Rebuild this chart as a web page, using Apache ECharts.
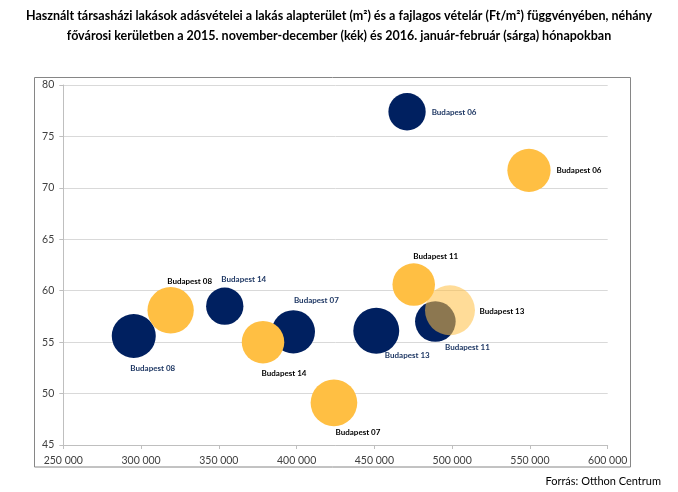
<!DOCTYPE html>
<html>
<head>
<meta charset="utf-8">
<script src="https://cdn.jsdelivr.net/npm/echarts@6/dist/echarts.min.js"></script>
<style>
html,body{margin:0;padding:0;background:#fff;}
#chart{width:678px;height:492px;}
</style>
</head>
<body>
<div id="chart"></div>
<script>
// ---- data ----
var titleLines = [
  'Használt társasházi lakások adásvételei a lakás alapterület (m²) és a fajlagos vételár (Ft/m²) függvényében, néhány',
  'fővárosi kerületben a 2015. november-december (kék) és 2016. január-február (sárga) hónapokban'
];
var sourceText = 'Forrás: Otthon Centrum';

var xTicks = [250000, 300000, 350000, 400000, 450000, 500000, 550000, 600000];
var yTicks = [45, 50, 55, 60, 65, 70, 75, 80];

// 2015 november-december (blue)
var blueNames = ['Budapest 06', 'Budapest 08', 'Budapest 14', 'Budapest 07', 'Budapest 13', 'Budapest 11'];
var bluePrice = [471000, 295300, 353800, 397900, 451200, 489200];   // Ft/m2
var blueArea  = [77.4, 55.6, 58.5, 56.0, 56.1, 57.0];               // m2
var blueSize  = [87, 121, 87, 117, 132, 103];                       // bubble size

// 2016 január-február (yellow)
var yellowNames = ['Budapest 06', 'Budapest 08', 'Budapest 14', 'Budapest 07', 'Budapest 11', 'Budapest 13'];
var yellowPrice = [549400, 319000, 378400, 424000, 475300, 498600];
var yellowArea  = [71.7, 58.1, 55.0, 49.1, 60.6, 58.1];
var yellowSize  = [117, 134, 113, 136, 113, 156];

// ---- layout / style (not data) ----
var blueLabelOffset   = [[47, 1], [19, 32], [19, -27], [23, -31], [31, 25], [32, 26]];
var yellowLabelOffset = [[50, 0], [19, -29], [21, 31], [24, 30], [22, -28], [52, 1]];
var NAVY = '#002060', GOLD = '#FFBF43', GOLD_T = 'rgba(255,191,67,0.55)';

function fmt(v) { return String(v).replace(/\B(?=(\d{3})+(?!\d))/g, ' '); }
function sizeFn(v) { return Math.sqrt(v) * 4; }

function build(names, xs, ys, ss, offs, color, labelColor, translucentName) {
  var items = names.map(function (n, i) {
    var it = {
      name: n,
      value: [xs[i], ys[i], ss[i]],
      label: { offset: offs[i] }
    };
    if (n === translucentName) it.itemStyle = { color: GOLD_T };
    return it;
  });
  // like Excel: larger bubbles drawn first
  items.sort(function (a, b) { return b.value[2] - a.value[2]; });
  return {
    type: 'scatter',
    data: items,
    symbolSize: function (v) { return sizeFn(v[2]); },
    itemStyle: { color: color, opacity: 1 },
    label: {
      show: true,
      position: 'inside',
      formatter: '{b}',
      color: labelColor,
      fontFamily: 'Lato',
      fontWeight: 'bold',
      fontSize: 8
    },
    emphasis: { disabled: true },
    animation: false
  };
}

var chart = echarts.init(document.getElementById('chart'), null, { renderer: 'canvas' });

var labelFont = { fontFamily: 'Lato', fontSize: 10.5, color: '#404040' };

chart.setOption({
  backgroundColor: '#fff',
  animation: false,
  title: [
    { text: titleLines[0], left: 'center', top: 4,
      textStyle: { fontFamily: 'Lato', fontWeight: 'bold', fontSize: 12.5, color: '#000' } },
    { text: titleLines[1], left: 'center', top: 24,
      textStyle: { fontFamily: 'Lato', fontWeight: 'bold', fontSize: 12.5, color: '#000' } },
    { text: sourceText, right: 12, top: 471,
      textStyle: { fontFamily: 'Lato', fontWeight: 'normal', fontSize: 11, color: '#000' } }
  ],
  graphic: [{
    type: 'rect',
    shape: { x: 34.5, y: 77.5, width: 596, height: 389.5 },
    style: { fill: 'none', stroke: '#868686', lineWidth: 1 },
    silent: true, z: -1
  }],
  grid: { left: 63.3, right: 70.3, top: 85, bottom: 47, containLabel: false },
  xAxis: {
    type: 'value',
    min: xTicks[0], max: xTicks[xTicks.length - 1], interval: xTicks[1] - xTicks[0],
    axisLine: { show: true, lineStyle: { color: '#bfbfbf' } },
    axisTick: { show: true, length: 4, lineStyle: { color: '#bfbfbf' } },
    splitLine: { show: false },
    axisLabel: Object.assign({ margin: 10, formatter: function (v) { return fmt(v); } }, labelFont)
  },
  yAxis: {
    type: 'value',
    min: yTicks[0], max: yTicks[yTicks.length - 1], interval: yTicks[1] - yTicks[0],
    axisLine: { show: true, lineStyle: { color: '#bfbfbf' } },
    axisTick: { show: true, length: 4, lineStyle: { color: '#bfbfbf' } },
    splitLine: { show: true, lineStyle: { color: '#d9d9d9' } },
    axisLabel: Object.assign({ margin: 9 }, labelFont)
  },
  series: [
    build(blueNames, bluePrice, blueArea, blueSize, blueLabelOffset, NAVY, '#1F3864', null),
    build(yellowNames, yellowPrice, yellowArea, yellowSize, yellowLabelOffset, GOLD, '#000', 'Budapest 13')
  ]
});
</script>
</body>
</html>
